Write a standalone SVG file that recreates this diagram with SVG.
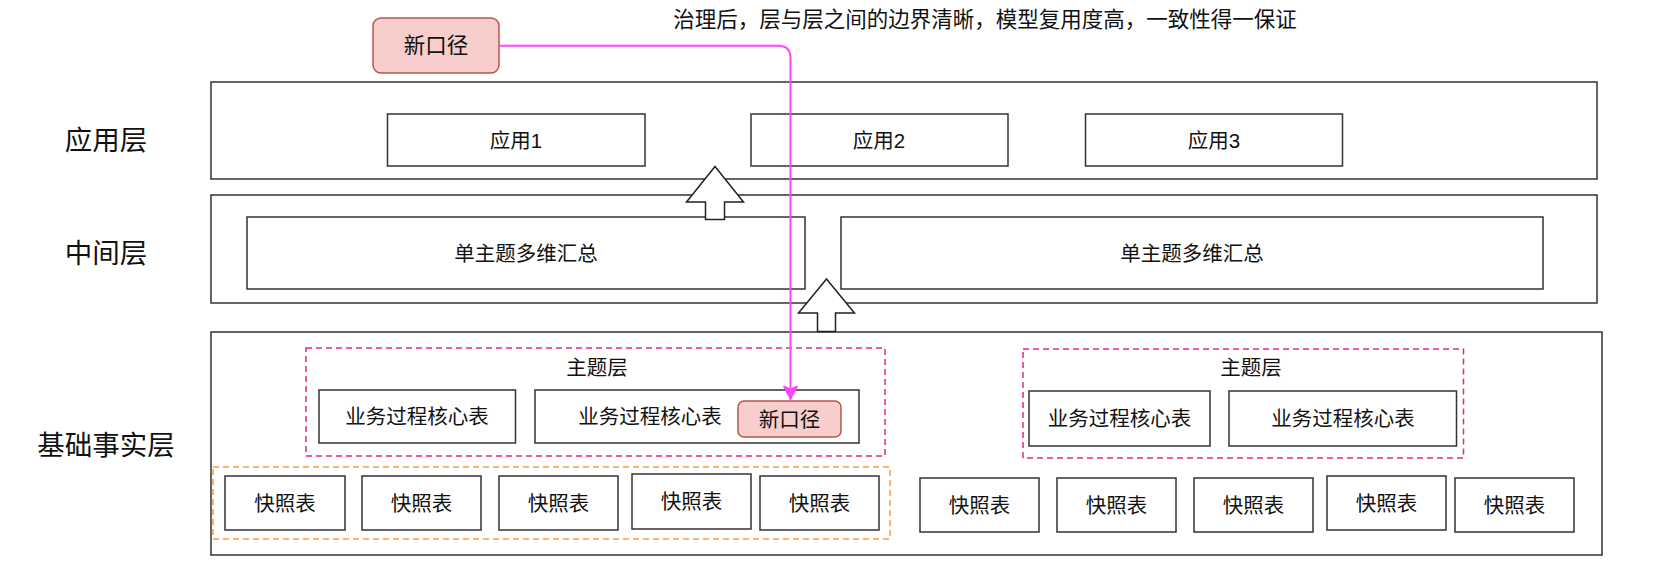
<svg xmlns="http://www.w3.org/2000/svg" width="1658" height="575" viewBox="0 0 1658 575">
<style>
text{font-family:"Liberation Sans","Noto Sans CJK SC",sans-serif;fill:#111;text-anchor:middle;dominant-baseline:central}
.box{fill:#fff;stroke:#333;stroke-width:1.5}
.layer{fill:#fff;stroke:#333;stroke-width:1.5}
.lbl{font-size:27.5px}
.t{font-size:20.5px}
.theme{fill:none;stroke:#e02a86;stroke-width:1.5;stroke-dasharray:6 4}
.snapgrp{fill:none;stroke:#ff9a3c;stroke-width:1.5;stroke-dasharray:6 4}
.new{fill:#f8cecc;stroke:#b85450;stroke-width:1.5}
.blk{fill:#fff;stroke:#222;stroke-width:1.5;stroke-linejoin:miter}
</style>
<defs>
<marker id="ah" markerUnits="userSpaceOnUse" markerWidth="15" markerHeight="16" viewBox="0 0 15 16" refX="14" refY="8" orient="auto">
<path d="M0,0.5 L14,8 L0,15.5 L3.5,8 Z" fill="#ff44ff" stroke="#ff44ff" stroke-width="1"/>
</marker>
</defs>
<rect width="1658" height="575" fill="#fff"/>

<g id="title"><text x="985" y="20" style="font-size:21.5px">治理后，层与层之间的边界清晰，模型复用度高，一致性得一保证</text></g>

<g id="label-app"><text class="lbl" x="106" y="140">应用层</text></g>
<g id="label-mid"><text class="lbl" x="106" y="253">中间层</text></g>
<g id="label-base"><text class="lbl" x="106" y="445">基础事实层</text></g>

<g id="layer-app"><rect class="layer" x="211" y="82" width="1386" height="97"/></g>
<g id="app1"><rect class="box" x="387.5" y="114" width="257.5" height="52"/><text class="t" x="516" y="140">应用1</text></g>
<g id="app2"><rect class="box" x="751" y="114" width="257" height="52"/><text class="t" x="879" y="140">应用2</text></g>
<g id="app3"><rect class="box" x="1085.5" y="114" width="257" height="52"/><text class="t" x="1214" y="140">应用3</text></g>

<g id="layer-mid"><rect class="layer" x="211" y="195" width="1386" height="108"/></g>
<g id="mid1"><rect class="box" x="247" y="217" width="558" height="72"/><text class="t" x="526" y="253">单主题多维汇总</text></g>
<g id="mid2"><rect class="box" x="841" y="217" width="702" height="72"/><text class="t" x="1192" y="253">单主题多维汇总</text></g>

<g id="layer-base"><rect class="layer" x="211" y="332" width="1391" height="223"/></g>

<g id="theme1"><rect class="theme" x="306" y="348" width="579" height="108"/><text class="t" x="597" y="367">主题层</text></g>
<g id="core1"><rect class="box" x="319" y="390" width="196.5" height="53"/><text class="t" x="417" y="416.5">业务过程核心表</text></g>
<g id="core2"><rect class="box" x="535" y="390" width="324" height="53"/><text class="t" x="650" y="416.5">业务过程核心表</text></g>
<g id="newcaliber-small"><rect class="new" x="738" y="401" width="103" height="36" rx="6"/><text class="t" x="789.5" y="419">新口径</text></g>

<g id="theme2"><rect class="theme" x="1023" y="349" width="440.5" height="109"/><text class="t" x="1251" y="367">主题层</text></g>
<g id="core3"><rect class="box" x="1029" y="391" width="181" height="55"/><text class="t" x="1119.5" y="418.5">业务过程核心表</text></g>
<g id="core4"><rect class="box" x="1229" y="391" width="227.5" height="55"/><text class="t" x="1343" y="418.5">业务过程核心表</text></g>

<g id="snapgroup"><rect class="snapgrp" x="213" y="467" width="677" height="72"/></g>
<g id="snap1"><rect class="box" x="225" y="476" width="120" height="54"/><text class="t" x="285" y="503">快照表</text></g>
<g id="snap2"><rect class="box" x="362" y="476" width="119" height="54"/><text class="t" x="421.5" y="503">快照表</text></g>
<g id="snap3"><rect class="box" x="499" y="476" width="119" height="54"/><text class="t" x="558.5" y="503">快照表</text></g>
<g id="snap4"><rect class="box" x="632" y="474" width="119" height="55"/><text class="t" x="691.5" y="501">快照表</text></g>
<g id="snap5"><rect class="box" x="760" y="476" width="119" height="54"/><text class="t" x="819.5" y="503">快照表</text></g>

<g id="snap6"><rect class="box" x="920" y="478" width="119" height="54"/><text class="t" x="979.5" y="505">快照表</text></g>
<g id="snap7"><rect class="box" x="1057" y="478" width="119" height="54"/><text class="t" x="1116.5" y="505">快照表</text></g>
<g id="snap8"><rect class="box" x="1194" y="478" width="119" height="54"/><text class="t" x="1253.5" y="505">快照表</text></g>
<g id="snap9"><rect class="box" x="1327" y="476" width="119" height="54"/><text class="t" x="1386.5" y="503">快照表</text></g>
<g id="snap10"><rect class="box" x="1455" y="478" width="119" height="54"/><text class="t" x="1514.5" y="505">快照表</text></g>

<g id="newcaliber"><rect class="new" x="373" y="18" width="126" height="55" rx="8"/><text x="436" y="45.5" style="font-size:21.5px">新口径</text></g>

<g id="connectors">
<polygon class="blk" points="715,166.5 743.5,202 724.5,202 724.5,219.5 705.5,219.5 705.5,202 686.5,202"/>
<polygon class="blk" points="826.5,279 854.5,313 835.5,313 835.5,331.5 817.5,331.5 817.5,313 798.5,313"/>
<path d="M499,45.7 H778 Q790.5,45.7 790.5,58 V399.5" fill="none" stroke="#ff44ff" stroke-width="2" marker-end="url(#ah)"/>
</g>
</svg>
